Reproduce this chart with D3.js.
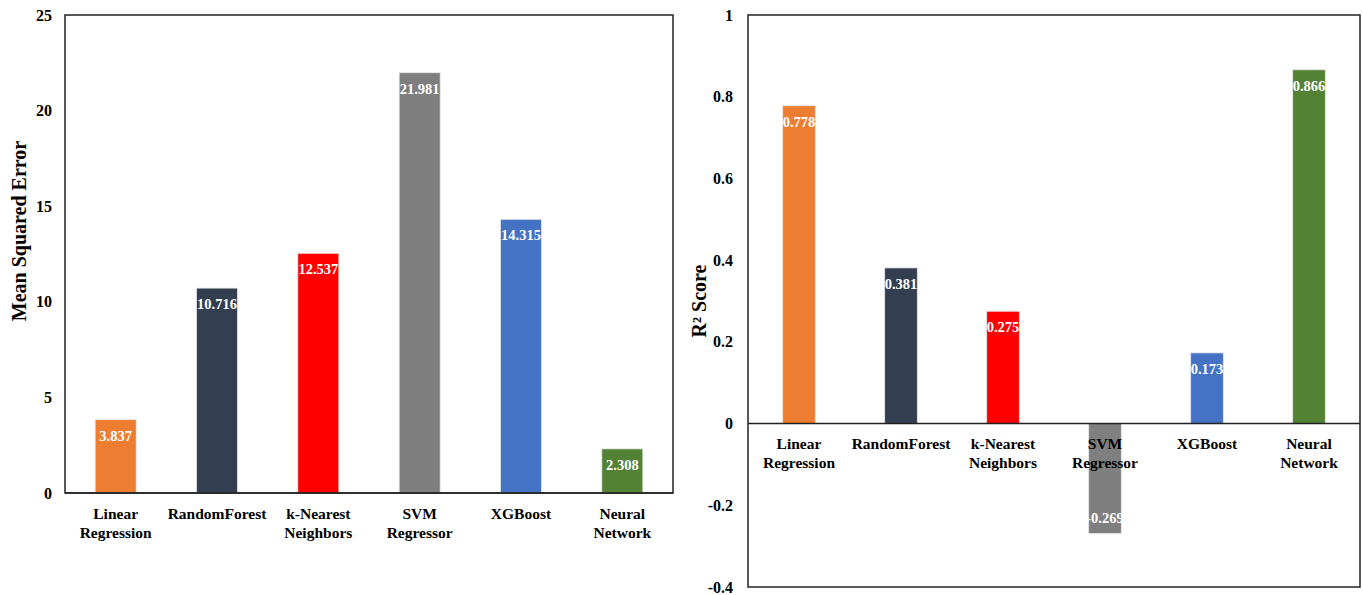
<!DOCTYPE html>
<html><head><meta charset="utf-8">
<script src="https://cdn.jsdelivr.net/npm/d3@7"></script>
<style>body{margin:0;background:#fff}svg{display:block}svg text{font-family:"Liberation Serif","Times New Roman","DejaVu Serif",serif !important;font-weight:bold}</style>
</head><body><svg id="c" width="1363" height="595" font-family="Liberation Serif"></svg>
<script>
const categories = ["Linear\nRegression","RandomForest","k-Nearest\nNeighbors","SVM\nRegressor","XGBoost","Neural\nNetwork"];
const mseValues = [3.837, 10.716, 12.537, 21.981, 14.315, 2.308];
const r2Values = [0.778, 0.381, 0.275, -0.269, 0.173, 0.866];
const colors = ["#ED7D31","#333F50","#FF0000","#7F7F7F","#4472C4","#548235"];
const mseTicks = [0,5,10,15,20,25];
const r2Ticks = [-0.4,-0.2,0,0.2,0.4,0.6,0.8,1];

const svg = d3.select("#c");

function panel(cfg){
  const g = svg.append("g");
  const x = d3.scaleBand().domain(d3.range(categories.length)).range([cfg.left, cfg.right]).paddingInner(cfg.pad).paddingOuter(cfg.pad/2);
  const y = d3.scaleLinear().domain(cfg.domain).range([cfg.bottom, cfg.top]);
  g.selectAll("rect.bar").data(cfg.values).join("rect")
    .attr("x",(d,i)=>x(i)).attr("width",x.bandwidth())
    .attr("y",d=>y(Math.max(0,d))).attr("height",d=>Math.abs(y(d)-y(0)))
    .attr("fill",(d,i)=>colors[i]).attr("stroke","#e8e8e8").attr("stroke-width",0.8);
  g.selectAll("text.val").data(cfg.values).join("text")
    .attr("x",(d,i)=>x(i)+x.bandwidth()/2)
    .attr("y",d=> d>=0 ? y(d)+21 : y(d)-10)
    .attr("text-anchor","middle").attr("fill","#fff").attr("font-size",14.5)
    .text(d=>d.toFixed(3));
  g.append("rect").attr("x",cfg.left).attr("y",cfg.top).attr("width",cfg.right-cfg.left).attr("height",cfg.bottom-cfg.top)
    .attr("fill","none").attr("stroke","#222").attr("stroke-width",1.5);
  g.append("line").attr("x1",cfg.left).attr("x2",cfg.right).attr("y1",y(0)).attr("y2",y(0)).attr("stroke","#222").attr("stroke-width",1.5);
  const ya = g.append("g").attr("transform",`translate(${cfg.left},0)`)
    .call(d3.axisLeft(y).tickValues(cfg.ticks).tickSize(0).tickPadding(cfg.tickPad).tickFormat(d=>String(+d.toFixed(1))));
  ya.select(".domain").remove();
  ya.selectAll("text").attr("font-size",16).attr("fill","#000");
  categories.forEach((c,i)=>{
    const t = g.append("text").attr("x",x(i)+x.bandwidth()/2).attr("y",y(0)+cfg.xLabOff)
      .attr("text-anchor","middle").attr("font-size",15.5).attr("fill","#000");
    c.split("\n").forEach((ln,j)=>t.append("tspan").attr("x",x(i)+x.bandwidth()/2).attr("dy",j?19:0).text(ln));
  });
  g.append("text").attr("transform",`translate(${cfg.titleX},${cfg.titleY}) rotate(-90)`)
    .attr("text-anchor","middle").attr("font-size",20).attr("fill","#000").text(cfg.title);
}

panel({left:65,right:673,top:15,bottom:493,domain:[0,25],values:mseValues,ticks:mseTicks,pad:0.595,tickPad:13,xLabOff:26,titleX:26,titleY:231,
  title:"Mean Squared Error"});
panel({left:748,right:1360,top:15,bottom:587,domain:[-0.4,1],values:r2Values,ticks:r2Ticks,pad:0.68,tickPad:15,xLabOff:25,titleX:706,titleY:301,
  title:"R² Score"});
</script></body></html>
